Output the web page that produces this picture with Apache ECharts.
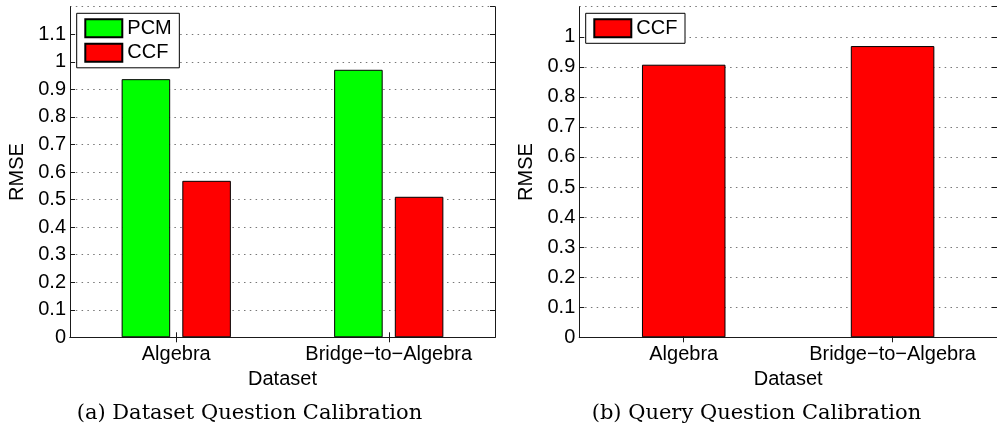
<!DOCTYPE html>
<html>
<head>
<meta charset="utf-8">
<script src="https://cdn.jsdelivr.net/npm/echarts@6/dist/echarts.min.js"></script>
<style>
html,body{margin:0;padding:0;background:#fff;}
#chart{width:997px;height:430px;}
</style>
</head>
<body>
<div id="chart"></div>
<script>
// ---- data ----
const categories = ['Algebra', 'Bridge\u2212to\u2212Algebra'];
const pcmDataset = [0.937, 0.971];
const ccfDataset = [0.568, 0.51];
const ccfQuery = [0.907, 0.969];
const yMaxLeft = 1.2;
const yMaxRight = 1.1;
const yStep = 0.1;
const captionLeft = '(a) Dataset Question Calibration';
const captionRight = '(b) Query Question Calibration';
const yName = 'RMSE';
const xName = 'Dataset';

const SANS = "'Liberation Sans', Arial, Helvetica, sans-serif";
const FS = 20;
const frame = '#1a1a1a';

function bottomX(grid) {
  return {
    gridIndex: grid, type: 'category', data: categories, position: 'bottom',
    axisLine: {show: true, lineStyle: {color: frame, width: 1}},
    axisTick: {show: true, inside: true, alignWithLabel: true, length: 5, lineStyle: {color: frame}},
    axisLabel: {fontFamily: SANS, fontSize: FS, color: '#000', margin: 7, interval: 0, hideOverlap: false},
    splitLine: {show: false},
    name: xName, nameLocation: 'middle', nameGap: 26,
    nameTextStyle: {fontFamily: SANS, fontSize: FS, color: '#000'}
  };
}
function topX(grid) {
  return {
    gridIndex: grid, type: 'category', data: categories, position: 'top',
    axisLine: {show: true, lineStyle: {color: frame, width: 1}},
    axisTick: {show: true, inside: true, alignWithLabel: true, length: 5, lineStyle: {color: frame}},
    axisLabel: {show: false}, splitLine: {show: false}
  };
}
function leftY(grid, max) {
  return {
    gridIndex: grid, type: 'value', min: 0, max: max, interval: yStep, position: 'left',
    axisLine: {show: true, lineStyle: {color: frame, width: 1}},
    axisTick: {show: true, inside: true, length: 5, lineStyle: {color: frame}},
    axisLabel: {fontFamily: SANS, fontSize: FS, color: '#000', margin: 4, showMaxLabel: false},
    splitLine: {show: true, lineStyle: {color: '#777', width: 1, type: [1.5, 4.3]}},
    name: yName, nameLocation: 'middle', nameGap: 43, nameRotate: 90,
    nameTextStyle: {fontFamily: SANS, fontSize: FS, color: '#000'}
  };
}
function rightY(grid, max) {
  return {
    gridIndex: grid, type: 'value', min: 0, max: max, interval: yStep, position: 'right',
    axisLine: {show: true, lineStyle: {color: frame, width: 1}},
    axisTick: {show: true, inside: true, length: 5, lineStyle: {color: frame}},
    axisLabel: {show: false}, splitLine: {show: false}
  };
}
const legendBase = {
  orient: 'vertical', icon: 'rect', itemWidth: 37, itemHeight: 18, itemGap: 4.5,
  padding: [5, 7.6], backgroundColor: '#fff', borderColor: '#000', borderWidth: 1,
  borderRadius: 0,
  textStyle: {fontFamily: SANS, fontSize: FS, color: '#000', padding: [0, 0, 0, 0]}
};
const capStyle = {fontFamily: "'DejaVu Serif', serif", fontSize: 21, fontWeight: 'normal', color: '#000'};

const chart = echarts.init(document.getElementById('chart'), null, {renderer: 'canvas'});
chart.setOption({
  animation: false,
  backgroundColor: '#fff',
  title: [
    {text: captionLeft, left: 76.7, top: 403, padding: 0, textStyle: capStyle},
    {text: captionRight, left: 591.7, top: 403, padding: 0, textStyle: capStyle}
  ],
  grid: [
    {left: 70, top: 6.7, width: 425, height: 330.6, containLabel: false},
    {left: 579.3, top: 6.7, width: 424.2, height: 330.6, containLabel: false}
  ],
  legend: [
    Object.assign({}, legendBase, {data: ['PCM', 'CCF'], left: 76.7, top: 13.3}),
    Object.assign({}, legendBase, {data: ['CCF'], left: 585.7, top: 13.3})
  ],
  xAxis: [bottomX(0), topX(0), bottomX(1), topX(1)],
  yAxis: [leftY(0, yMaxLeft), rightY(0, yMaxLeft), leftY(1, yMaxRight), rightY(1, yMaxRight)],
  series: [
    {type: 'bar', name: 'PCM', xAxisIndex: 0, yAxisIndex: 0, data: pcmDataset,
     barGap: '25%', barCategoryGap: '48.6%',
     itemStyle: {color: '#00ff00', borderColor: '#000', borderWidth: 1}},
    {type: 'bar', name: 'CCF', xAxisIndex: 0, yAxisIndex: 0, data: ccfDataset,
     barGap: '25%', barCategoryGap: '48.6%',
     itemStyle: {color: '#ff0000', borderColor: '#000', borderWidth: 1}},
    {type: 'bar', name: 'CCF', xAxisIndex: 2, yAxisIndex: 2, data: ccfQuery,
     barCategoryGap: '60%',
     itemStyle: {color: '#ff0000', borderColor: '#000', borderWidth: 1}}
  ]
});
</script>
</body>
</html>
